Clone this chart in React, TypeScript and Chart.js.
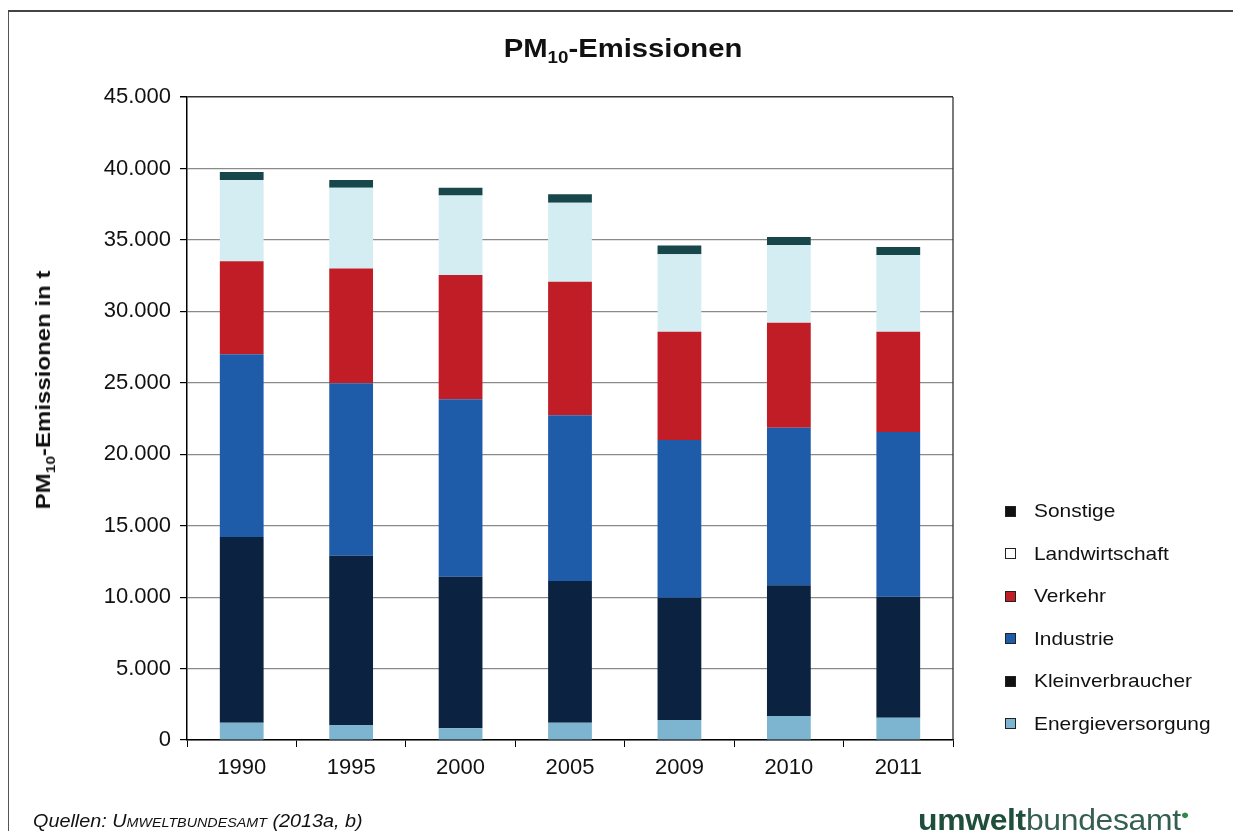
import React, { useEffect, useRef } from "react";
import { Chart, registerables } from "chart.js";

Chart.register(...registerables);

const years = ["1990", "1995", "2000", "2005", "2009", "2010", "2011"];
const energieversorgung = [1200, 1050, 820, 1210, 1400, 1680, 1560];
const kleinverbraucher = [13000, 11850, 10610, 9920, 8560, 9150, 8470];
const industrie = [12800, 12060, 12410, 11600, 11040, 11030, 11520];
const verkehr = [6500, 8040, 8700, 9340, 7570, 7340, 7020];
const landwirtschaft = [5700, 5650, 5560, 5530, 5430, 5440, 5370];
const sonstige = [550, 550, 550, 600, 600, 560, 560];

const seriesNames = ["Energieversorgung", "Kleinverbraucher", "Industrie", "Verkehr", "Landwirtschaft", "Sonstige"];
const seriesData = [energieversorgung, kleinverbraucher, industrie, verkehr, landwirtschaft, sonstige];
const seriesColors = ["#7db4cf", "#0b2341", "#1e5caa", "#c01d26", "#d4edf2", "#17474a"];
const legendColors = ["#7db4cf", "#111111", "#1e5caa", "#c01d26", "#ffffff", "#111111"];

const yMax = 45000;
const yStep = 5000;

const FONT = "'Liberation Sans', Arial, Helvetica, sans-serif";

function fmt(v: number): string {
  const s = Math.round(v).toString();
  return s.replace(/\B(?=(\d{3})+(?!\d))/g, ".");
}

export default function App() {
  const ref = useRef<HTMLCanvasElement | null>(null);

  useEffect(() => {
    if (!ref.current) return;
    const chart = new Chart(ref.current, {
      type: "bar",
      data: {
        labels: years,
        datasets: seriesNames.map((name, i) => ({
          label: name,
          data: seriesData[i],
          backgroundColor: seriesColors[i],
          borderWidth: 0,
          barPercentage: 0.4,
          categoryPercentage: 1,
        })),
      },
      options: {
        responsive: false,
        animation: false,
        layout: { padding: { top: 89, right: 280, bottom: 41, left: 0 } },
        plugins: {
          legend: { display: false },
          title: { display: false },
          tooltip: { enabled: false },
        },
        scales: {
          x: {
            stacked: true,
            afterFit: (s: any) => {
              s.height = 50;
            },
            grid: {
              display: true,
              drawOnChartArea: false,
              drawTicks: true,
              tickLength: 7,
              color: "#000",
              offset: true,
            },
            border: { display: true, color: "#000", width: 1.5 },
            ticks: { color: "#111", font: { family: FONT, size: 22 }, padding: 8 },
          },
          y: {
            stacked: true,
            min: 0,
            max: yMax,
            afterFit: (s: any) => {
              s.width = 179;
            },
            ticks: {
              stepSize: yStep,
              color: "#111",
              font: { family: FONT, size: 22 },
              padding: 9,
              callback: (v: any) => fmt(Number(v)),
            },
            grid: {
              color: (c: any) => (c.tick && c.tick.value === yMax ? "#333" : "#8a8a8a"),
              lineWidth: (c: any) => (c.tick && c.tick.value === yMax ? 1.5 : 1.2),
              tickColor: "#000",
              tickLength: 7,
            },
            border: { display: true, color: "#000", width: 1.5 },
          },
        },
      },
      plugins: [
        {
          id: "rightBorder",
          afterDraw(c: any) {
            const { ctx, chartArea } = c;
            ctx.save();
            ctx.strokeStyle = "#222";
            ctx.lineWidth = 1.2;
            ctx.beginPath();
            ctx.moveTo(chartArea.right, chartArea.top);
            ctx.lineTo(chartArea.right, chartArea.bottom);
            ctx.stroke();
            ctx.restore();
          },
        },
      ],
    });
    return () => chart.destroy();
  }, []);

  const legendOrder = [5, 4, 3, 2, 1, 0];

  return (
    <div
      style={{
        position: "relative",
        width: 1225,
        height: 823,
        fontFamily: FONT,
        background: "#fff",
        overflow: "hidden",
      }}
    >
      <div style={{ position: "absolute", left: 0, top: 2, width: 1, height: 830, background: "#555" }} />
      <div style={{ position: "absolute", left: 0, top: 2, width: 1233, height: 1.5, background: "#444" }} />
      <canvas ref={ref} width={1225} height={823} style={{ position: "absolute", left: 0, top: 0 }} />
      <div
        style={{
          position: "absolute",
          left: 615,
          top: 42,
          transform: "translate(-50%, -50%) scaleX(1.17)",
          whiteSpace: "nowrap",
          fontWeight: "bold",
          fontSize: 25,
          color: "#111",
        }}
      >
        PM<sub style={{ fontSize: 16 }}>10</sub>-Emissionen
      </div>
      <div
        style={{
          position: "absolute",
          left: 37,
          top: 382,
          transform: "translate(-50%, -50%) rotate(-90deg) scaleX(1.2)",
          whiteSpace: "nowrap",
          fontWeight: "bold",
          fontSize: 20,
          color: "#111",
        }}
      >
        PM<sub style={{ fontSize: 13 }}>10</sub>-Emissionen in t
      </div>
      {legendOrder.map((idx, k) => (
        <div
          key={seriesNames[idx]}
          style={{
            position: "absolute",
            left: 997,
            top: 503 + k * 42.5 - 12,
            height: 24,
            display: "flex",
            alignItems: "center",
            fontSize: 19,
            color: "#111",
            whiteSpace: "nowrap",
          }}
        >
          <span
            style={{
              display: "inline-block",
              width: 9,
              height: 9,
              background: legendColors[idx],
              border: "1px solid #222",
              marginRight: 18,
            }}
          />
          <span style={{ display: "inline-block", transform: "scaleX(1.1)", transformOrigin: "left center" }}>
            {seriesNames[idx]}
          </span>
        </div>
      ))}
      <div
        style={{
          position: "absolute",
          left: 25,
          top: 803,
          fontStyle: "italic",
          fontSize: 18,
          color: "#111",
          whiteSpace: "nowrap",
          transform: "scaleX(1.1)",
          transformOrigin: "left center",
        }}
      >
        Quellen: <span style={{ fontVariant: "small-caps" }}>Umweltbundesamt</span> (2013a, b)
      </div>
      <div
        style={{
          position: "absolute",
          left: 910,
          top: 792,
          fontSize: 29,
          lineHeight: "30px",
          whiteSpace: "nowrap",
          transform: "scaleX(1.1)",
          transformOrigin: "left center",
          letterSpacing: -0.3,
        }}
      >
        <span style={{ fontWeight: "bold", color: "#1f4f3c" }}>umwelt</span>
        <span style={{ color: "#355f50" }}>bundesamt</span>
        <sup style={{ fontSize: 13, color: "#2f8a4a", fontWeight: "bold" }}>●</sup>
      </div>
    </div>
  );
}
